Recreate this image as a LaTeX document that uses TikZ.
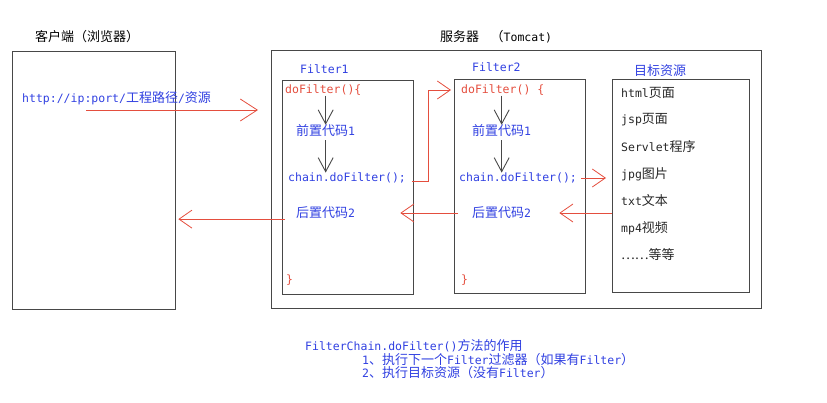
\documentclass[tikz,border=0pt]{standalone}
\usepackage{fontspec}
\setmainfont{DejaVu Sans Mono}
\newfontfamily\cjkfont{Noto Sans CJK SC}
\newcommand\zhtxt[1]{{\cjkfont\fontsize{13}{15}\selectfont #1}}
\usetikzlibrary{arrows.meta,positioning}
\definecolor{flowred}{RGB}{228,78,62}
\definecolor{codeblue}{RGB}{48,64,225}
\definecolor{boxgray}{RGB}{72,72,72}

\begin{document}
\begin{tikzpicture}[x=1pt,y=-1pt,
  every node/.append style={inner sep=0pt, font=\fontsize{11.5}{13}\selectfont},
  frame/.style={draw=boxgray, line width=1.3pt, anchor=north west},
  code/.style={anchor=west, text=codeblue},
  brace/.style={anchor=west, text=flowred},
  item/.style={anchor=west, text=black!85},
  note/.style={anchor=west, text=codeblue},
  flow/.style={draw=flowred, line width=0.8pt, -{Straight Barb[length=13pt,width=18pt]}},
  down/.style={draw=boxgray, line width=0.9pt, -{Straight Barb[length=14pt,width=15pt]}}]
\useasboundingbox (0,0) rectangle (827,403);
\node [frame, minimum width=163pt, minimum height=258pt] (client) at (12,51) {};
\node [anchor=west] (clientlbl) at (35,37) {\zhtxt{客户端（浏览器）}};
\node [code] (url) at (22,98) {http://ip:port/\zhtxt{工程路径}/\zhtxt{资源}};
\node [frame, minimum width=490pt, minimum height=258pt] (server) at (271,50) {};
\node [anchor=west] (serverlbl) at (440,37) {\zhtxt{服务器}\quad\zhtxt{（}Tomcat)};
\node [frame, minimum width=131pt, minimum height=214pt] (f1) at (282,80) {};
\node [frame, minimum width=131pt, minimum height=214pt] (f2) at (454,79) {};
\node [frame, minimum width=137pt, minimum height=213pt] (res) at (612,79) {};
\node [code] (f1lbl) at (300,69) {Filter1};
\node [code] (f2lbl) at (472,67) {Filter2};
\node [code] (reslbl) at (634,71) {\zhtxt{目标资源}};
\node [brace] (do1) at (285,90) {doFilter()\{};
\node [code] (pre1) at (296,131) {\zhtxt{前置代码}1};
\node [code] (chain1) at (288,178) {chain.doFilter();};
\node [code] (post1) at (296,213) {\zhtxt{后置代码}2};
\node [brace] (end1) at (286,280) {\}};
\node [brace] (do2) at (461,90) {doFilter() \{};
\node [code] (pre2) at (472,131) {\zhtxt{前置代码}1};
\node [code] (chain2) at (459,178) {chain.doFilter();};
\node [code] (post2) at (472,213) {\zhtxt{后置代码}2};
\node [brace] (end2) at (461,280) {\}};
\foreach \txt [count=\i] in {html\zhtxt{页面}, jsp\zhtxt{页面}, Servlet\zhtxt{程序}, jpg\zhtxt{图片}, txt\zhtxt{文本}, mp4\zhtxt{视频}, \zhtxt{……等等}}
  \node [item] (res\i) at (621,66+27*\i) {\txt};
\node [note] (note0) at (305,346) {FilterChain.doFilter()\zhtxt{方法的作用}};
\node [note] (note1) at (362,360) {1\zhtxt{、执行下一个}Filter\zhtxt{过滤器（如果有}Filter\zhtxt{）}};
\node [note] (note2) at (362,373) {2\zhtxt{、执行目标资源（没有}Filter\zhtxt{）}};
\coordinate (req) at (86,110);
\draw [flow, -{Straight Barb[length=17pt,width=22pt]}, shorten >=13pt] (req) -- (server.west |- req);
\draw [down] (pre1 |- do1.south) -- (pre1.north);
\draw [down, shorten <=3pt] (pre1.south) -- (pre1 |- chain1.north);
\draw [down] (pre2 |- do2.south) -- (pre2.north);
\draw [down, shorten <=3pt] (pre2.south) -- (pre2 |- chain2.north);
\draw [flow, shorten >=10pt] (f1.east |- chain1) ++(-2,3) -- ++(16,0) |- (do2.west);
\draw [flow, shorten <=4pt, shorten >=6pt] (chain2.east) -- (res.west |- chain2.east);
\draw [flow, shorten >=-27pt] (res.west |- post2.east) -- (f2.east |- post2.east);
\draw [flow, shorten <=-4pt, shorten >=-14pt] (f2.west |- post2.east) -- (f1.east |- post2.east);
\draw [flow, shorten <=-3pt, shorten >=2pt] (f1.west |- post1.south) -- (client.east |- post1.south);
\end{tikzpicture}
\end{document}
